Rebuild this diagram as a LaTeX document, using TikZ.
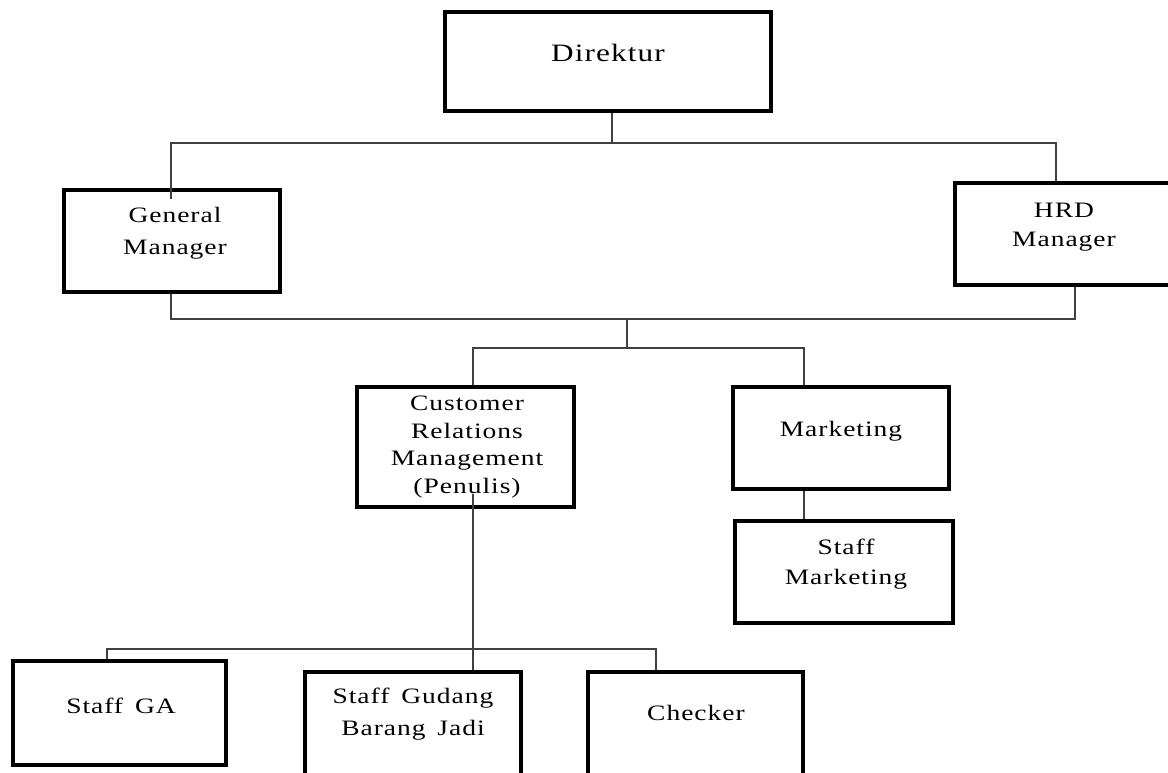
\documentclass[tikz,border=0pt]{standalone}
\usepackage{fontspec}
\setmainfont{Liberation Serif}[FakeStretch=1.25,LetterSpace=4.5]
\begin{document}
\begin{tikzpicture}[x=1pt,y=-1pt,
  box/.style={draw=black,line width=4.5pt,fill=white,inner sep=0pt},
  conn/.style={draw=black!75,line width=1.5pt},
  lbl/.style={align=center,inner sep=0pt,font=\fontsize{22}{30}\selectfont}]
\useasboundingbox (0,0) rectangle (1168,773);
\clip (0,0) rectangle (1168,773);
% boxes
\node[box,minimum width=326pt,minimum height=99pt] (dir) at (608,61.5) {};
\node[box,minimum width=216pt,minimum height=102pt] (gm) at (172,241) {};
\node[box,minimum width=217pt,minimum height=102pt] (hrd) at (1063.5,234) {};
\node[box,minimum width=217pt,minimum height=120pt] (crm) at (465.5,447) {};
\node[box,minimum width=216pt,minimum height=102pt] (mkt) at (841,438) {};
\node[box,minimum width=218pt,minimum height=102pt] (smk) at (844,572) {};
\node[box,minimum width=213pt,minimum height=104pt] (sga) at (119.5,713) {};
\node[box,minimum width=216pt,minimum height=128pt] (sgd) at (413,736) {};
\node[box,minimum width=215pt,minimum height=128pt] (chk) at (695.5,736) {};
% labels
\node[lbl,font=\fontsize{25}{30}\selectfont] (tdir) at (608,53) {Direktur};
\node[lbl,font=\fontsize{22}{32}\selectfont] (tgm) at (175,233) {General\\Manager};
\node[lbl,font=\fontsize{22}{29}\selectfont] (thrd) at (1064,227) {HRD\\Manager};
\node[lbl,font=\fontsize{22}{27.5}\selectfont] (tcrm) at (467,447) {Customer\\Relations\\Management\\(Penulis)};
\node[lbl] (tmkt) at (841,431) {Marketing};
\node[lbl] (tsmk) at (846,564) {Staff\\Marketing};
\node[lbl] (tsga) at (121,706) {Staff\hspace{4pt} GA};
\node[lbl,font=\fontsize{22}{32}\selectfont] (tsgd) at (413,714) {Staff\hspace{4pt} Gudang\\Barang\hspace{4pt} Jadi};
\node[lbl] (tchk) at (696,713) {Checker};
% connector points
\coordinate (dirB) at ([xshift=4pt]dir.south);
\coordinate (bus1) at (612,143);
\coordinate (gmT) at ([xshift=-1pt,yshift=-11pt]gm.north);
\coordinate (hrdT) at ([xshift=-7.5pt]hrd.north);
\coordinate (gmB) at ([xshift=-1pt]gm.south);
\coordinate (hrdB) at ([xshift=11.5pt]hrd.south);
\coordinate (bus2) at (627,319);
\coordinate (bus3) at (627,348);
\coordinate (crmT) at ([xshift=7.5pt]crm.north);
\coordinate (mktT) at ([xshift=-37pt]mkt.north);
\coordinate (crmI) at ([xshift=7.5pt,yshift=15pt]crm.south);
\coordinate (bus4) at (473,649);
\coordinate (sgaT) at ([xshift=-12.5pt]sga.north);
\coordinate (chkT) at ([xshift=-39.5pt]chk.north);
% connectors
\draw[conn] (dirB) -- (bus1);
\draw[conn] (gmT) |- (hrdT |- bus1) -- (hrdT);
\draw[conn] (gmB) |- (hrdB |- bus2) -- (hrdB);
\draw[conn] (bus2) -- (bus3);
\draw[conn] (crmT) |- (mktT |- bus3) -- (mktT);
\draw[conn] (mktT |- mkt.south) -- (mktT |- smk.north);
\draw[conn] (crmI) -- (crmI |- sgd.north);
\draw[conn] (sgaT) |- (chkT |- bus4) -- (chkT);
\end{tikzpicture}
\end{document}
